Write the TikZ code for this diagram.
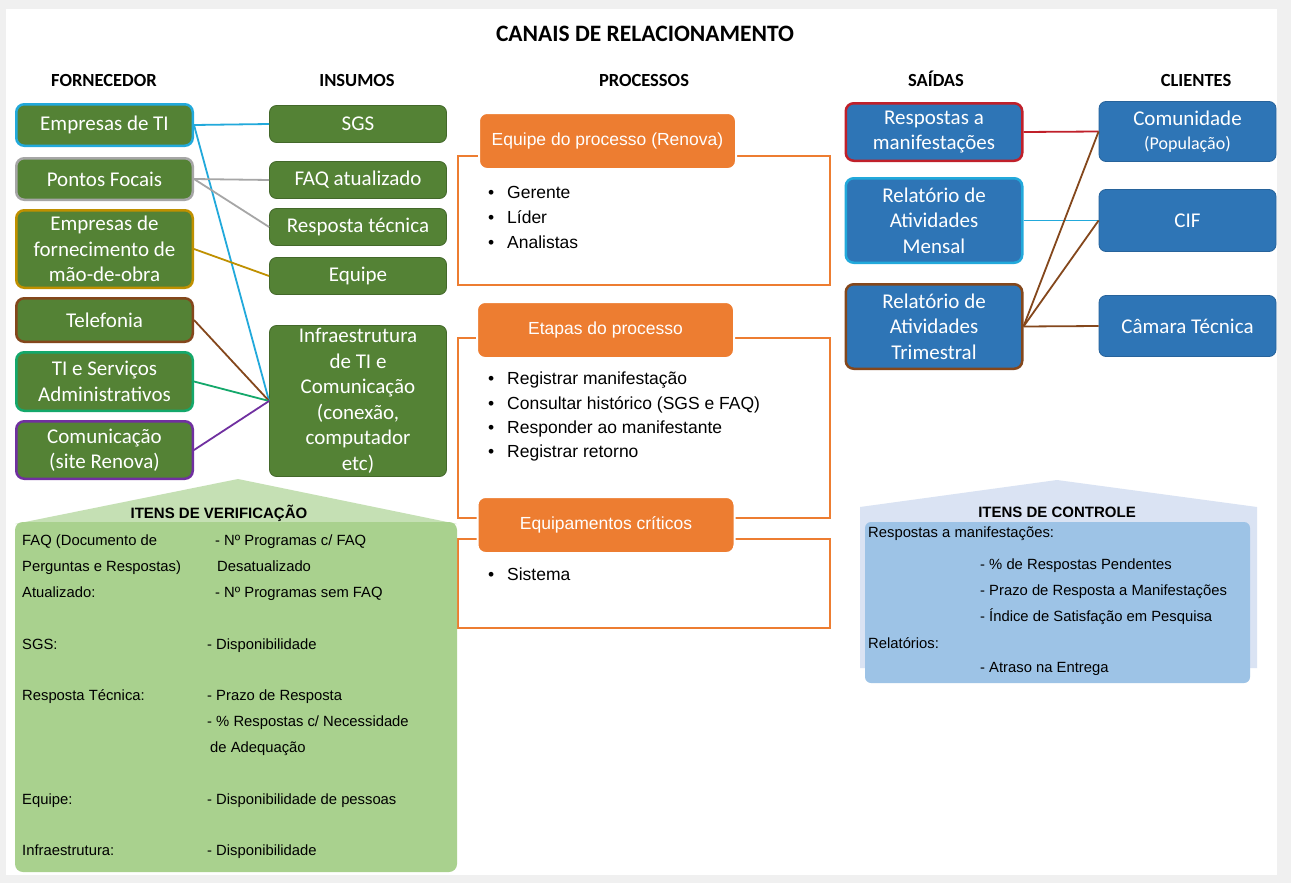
\documentclass[tikz,border=0pt]{standalone}
\usepackage{fontspec}
\setmainfont{Liberation Sans}
\newfontfamily\calibri{Carlito}
\usepackage{tikz}
\usetikzlibrary{positioning}
\definecolor{fundo}{HTML}{F0F0F0}
\definecolor{verde}{HTML}{548235}
\definecolor{azul}{HTML}{2E75B6}
\definecolor{laranja}{HTML}{ED7D31}
\definecolor{ciano}{HTML}{22A9DB}
\definecolor{cinza}{HTML}{A6A6A6}
\definecolor{ouro}{HTML}{BF9000}
\definecolor{marrom}{HTML}{84471C}
\definecolor{verdeagua}{HTML}{14A86B}
\definecolor{roxo}{HTML}{7030A0}
\definecolor{vermelho}{HTML}{C0202A}
\definecolor{verdeclaro}{HTML}{A9D18E}
\definecolor{verdeteto}{HTML}{C5E0B4}
\definecolor{azulclaro}{HTML}{9DC3E6}
\definecolor{azulteto}{HTML}{DAE3F3}
\tikzstyle{forn}=[rectangle,rounded corners=8pt,fill=verde,draw,line width=2.5pt,minimum width=176.5pt,inner sep=0pt,text=white,align=center,font=\calibri\fontsize{21}{25.5}\selectfont]
\tikzstyle{insumo}=[rectangle,rounded corners=7pt,fill=verde,draw=verde!80!black,line width=0.8pt,minimum width=177pt,inner sep=0pt,text=white,align=center,font=\calibri\fontsize{21}{25.5}\selectfont]
\tikzstyle{saida}=[forn,fill=azul]
\tikzstyle{cliente}=[insumo,fill=azul,draw=azul!85!black]
\tikzstyle{etapa}=[rectangle,rounded corners=8pt,fill=laranja,draw=white,line width=2pt,minimum width=257pt,minimum height=56pt,text=white,font=\fontsize{17.5}{21}\selectfont]
\tikzstyle{moldura}=[draw=laranja,line width=1.3pt]
\tikzstyle{item}=[anchor=mid west,inner sep=0pt,font=\fontsize{17.5}{21}\selectfont]
\tikzstyle{verif}=[anchor=mid west,inner sep=0pt,font=\fontsize{14.8}{18}\selectfont]
\tikzstyle{cabec}=[anchor=base,inner sep=0pt,font=\calibri\bfseries\fontsize{18.5}{22}\selectfont]
\tikzstyle{liga}=[line width=1.8pt]

\begin{document}
\begin{tikzpicture}[x=1pt,y=-1pt]
\useasboundingbox (0,0) rectangle (1291,883);
\fill[fundo] (0,0) rectangle (1291,883);
\fill[white] (6,9) rectangle (1277,875);

% titulos
\node[cabec,font=\calibri\bfseries\fontsize{23.5}{28}\selectfont] (tit) at (645,42) {CANAIS DE RELACIONAMENTO};
\node[cabec] (hforn) at (104,86) {FORNECEDOR};
\node[cabec] (hins) at (357,86) {INSUMOS};
\node[cabec] (hproc) at (644,86) {PROCESSOS};
\node[cabec] (hsai) at (936,86) {SAÍDAS};
\node[cabec] (hcli) at (1196,86) {CLIENTES};

% fornecedores
\node[forn,draw=ciano,minimum height=41.5pt] (eti) at (104.5,125) {Empresas de TI};
\node[forn,draw=cinza,minimum height=41.5pt] (pfo) at (104.5,179) {Pontos Focais};
\node[forn,draw=ouro,minimum height=77.5pt] (emo) at (104.5,249) {Empresas de\\fornecimento de\\mão-de-obra};
\node[forn,draw=marrom,minimum height=43.5pt] (tel) at (104.5,320) {Telefonia};
\node[forn,draw=verdeagua,minimum height=58.5pt] (tis) at (104.5,381.5) {TI e Serviços\\Administrativos};
\node[forn,draw=roxo,minimum height=57.5pt] (com) at (104.5,450) {Comunicação\\(site Renova)};

% insumos
\node[insumo,minimum height=37pt] (sgs) at (358,124) {SGS};
\node[insumo,minimum height=37pt] (faq) at (358,180) {FAQ atualizado};
\node[insumo,minimum height=37pt] (rte) at (358,227) {Resposta técnica};
\node[insumo,minimum height=37pt] (eqp) at (358,276) {Equipe};
\node[insumo,minimum height=151pt] (inf) at (358,401) {Infraestrutura\\de TI e\\Comunicação\\(conexão,\\computador\\etc)};

\path[liga]
(eti.east) edge[draw=ciano] (sgs.west)
(eti.east) edge[draw=ciano] (inf.west)
(pfo.east) edge[draw=cinza] (faq.west)
(pfo.east) edge[draw=cinza] (rte.west)
(emo.east) edge[draw=ouro] (eqp.west)
(tel.east) edge[draw=marrom] (inf.west)
(tis.east) edge[draw=verdeagua] (inf.west)
(com.east) edge[draw=roxo] (inf.west);

% processos
\draw[moldura] (458,156) rectangle (830,285);
\draw[moldura] (458,338) rectangle (830,518);
\draw[moldura] (458,539) rectangle (830,628);
\node[etapa] (eq) at (607.5,141) {Equipe do processo (Renova)};
\node[etapa] (et) at (605.5,330) {Etapas do processo};
\node[etapa] (ec) at (606,525) {Equipamentos críticos};
\node[item] (p1) at (488,196) {\makebox[19pt][l]{\textbullet}Gerente};
\node[item] (p2) at (488,221) {\makebox[19pt][l]{\textbullet}Líder};
\node[item] (p3) at (488,246) {\makebox[19pt][l]{\textbullet}Analistas};
\node[item] (s1) at (488,382) {\makebox[19pt][l]{\textbullet}Registrar manifestação};
\node[item] (s2) at (488,407) {\makebox[19pt][l]{\textbullet}Consultar histórico (SGS e FAQ)};
\node[item] (s3) at (488,431) {\makebox[19pt][l]{\textbullet}Responder ao manifestante};
\node[item] (s4) at (488,455) {\makebox[19pt][l]{\textbullet}Registrar retorno};
\node[item] (c1) at (488,578) {\makebox[19pt][l]{\textbullet}Sistema};

% saidas e clientes
\node[saida,draw=vermelho,minimum height=57.5pt] (rma) at (934,132) {Respostas a\\manifestações};
\node[saida,draw=ciano,minimum height=84.5pt] (rme) at (934,220.5) {Relatório de\\Atividades\\Mensal};
\node[saida,draw=marrom,minimum height=84.5pt] (rtr) at (934,326.5) {Relatório de\\Atividades\\Trimestral};
\node[cliente,minimum height=60pt] (cmd) at (1187.5,131.5) {Comunidade\\[-2pt]{\fontsize{18}{21}\selectfont(População)}};
\node[cliente,minimum height=62pt] (cif) at (1187.5,220.5) {CIF};
\node[cliente,minimum height=61pt] (cam) at (1187.5,326) {Câmara Técnica};

\path[liga]
(rma.east) edge[draw=vermelho] (cmd.west)
(rme.east) edge[draw=ciano] (cif.west)
(rtr.east) edge[draw=marrom] (cmd.west)
(rtr.east) edge[draw=marrom] (cif.west)
(rtr.east) edge[draw=marrom] (cam.west);

% itens de verificacao
\fill[verdeteto] (15,524) -- (238,479) -- (457,524) -- cycle;
\fill[verdeclaro,rounded corners=8pt] (15,522) rectangle (457,872);
\node[font=\bfseries\fontsize{15}{18}\selectfont] (iv) at (219,513) {ITENS DE VERIFICAÇÃO};
\node[verif] (v1) at (22,543) {FAQ (Documento de};
\node[verif] (v2) at (22,569) {Perguntas e Respostas)};
\node[verif] (v3) at (22,595) {Atualizado:};
\node[verif] (v4) at (22,647) {SGS:};
\node[verif] (v5) at (22,698) {Resposta Técnica:};
\node[verif] (v6) at (22,802) {Equipe:};
\node[verif] (v7) at (22,853) {Infraestrutura:};
\node[verif] (w1) at (215,543) {- Nº Programas c/ FAQ};
\node[verif] (w2) at (217,569) {Desatualizado};
\node[verif] (w3) at (215,595) {- Nº Programas sem FAQ};
\node[verif] (w4) at (207,647) {- Disponibilidade};
\node[verif] (w5) at (207,698) {- Prazo de Resposta};
\node[verif] (w6) at (207,724) {- \% Respostas c/ Necessidade};
\node[verif] (w7) at (210,750) {de Adequação};
\node[verif] (w8) at (207,802) {- Disponibilidade de pessoas};
\node[verif] (w9) at (207,853) {- Disponibilidade};

% itens de controle
\fill[azulteto] (860,668) -- (860,507) -- (1057,480) -- (1257,507) -- (1257,668) -- cycle;
\fill[azulclaro,rounded corners=6pt] (865,522) rectangle (1250,683);
\node[font=\bfseries\fontsize{15}{18}\selectfont] (ic) at (1057,512) {ITENS DE CONTROLE};
\node[verif] (k1) at (868,535) {Respostas a manifestações:};
\node[verif] (k2) at (980,567) {- \% de Respostas Pendentes};
\node[verif] (k3) at (980,593) {- Prazo de Resposta a Manifestações};
\node[verif] (k4) at (980,619) {- Índice de Satisfação em Pesquisa};
\node[verif] (k5) at (868,646) {Relatórios:};
\node[verif] (k6) at (980,670) {- Atraso na Entrega};
\end{tikzpicture}
\end{document}
